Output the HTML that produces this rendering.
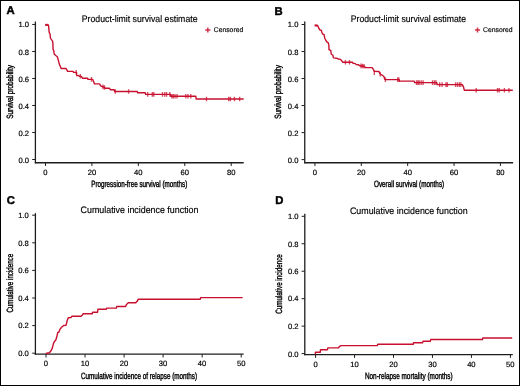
<!DOCTYPE html>
<html><head><meta charset="utf-8"><style>
html,body{margin:0;padding:0;background:#fff;}
body{width:520px;height:386px;overflow:hidden;}
svg{display:block;will-change:transform;}
text{font-family:"Liberation Sans", sans-serif;fill:#000;text-rendering:geometricPrecision;stroke:#000;stroke-width:0.15px;}
.tk{font-size:7.6px;stroke-width:0.18px;}
.tt{font-size:9.4px;stroke-width:0.16px;}
.al{font-size:9.1px;stroke-width:0.4px;}
.lg{font-size:6.8px;}
.pl{font-size:11.3px;font-weight:bold;fill:#000;stroke-width:0.45px;}
</style></head><body>
<svg width="520" height="386" viewBox="0 0 520 386">
<rect x="0" y="0" width="520" height="386" fill="#fff"/>
<rect x="0.5" y="0.5" width="519" height="385" fill="none" stroke="#000" stroke-width="1"/>
<line x1="35.4" y1="21.5" x2="35.4" y2="163.29" stroke="#1e1e1e" stroke-width="1.3"/>
<line x1="34.8" y1="162.69" x2="243.7" y2="162.69" stroke="#1e1e1e" stroke-width="1.38"/>
<line x1="32.2" y1="159.5" x2="35.4" y2="159.5" stroke="#1e1e1e" stroke-width="1"/>
<line x1="32.2" y1="132.49" x2="35.4" y2="132.49" stroke="#1e1e1e" stroke-width="1"/>
<line x1="32.2" y1="105.48" x2="35.4" y2="105.48" stroke="#1e1e1e" stroke-width="1"/>
<line x1="32.2" y1="78.48" x2="35.4" y2="78.48" stroke="#1e1e1e" stroke-width="1"/>
<line x1="32.2" y1="51.47" x2="35.4" y2="51.47" stroke="#1e1e1e" stroke-width="1"/>
<line x1="32.2" y1="24.46" x2="35.4" y2="24.46" stroke="#1e1e1e" stroke-width="1"/>
<line x1="45.5" y1="162.69" x2="45.5" y2="165.99" stroke="#1e1e1e" stroke-width="1"/>
<line x1="91.92" y1="162.69" x2="91.92" y2="165.99" stroke="#1e1e1e" stroke-width="1"/>
<line x1="138.35" y1="162.69" x2="138.35" y2="165.99" stroke="#1e1e1e" stroke-width="1"/>
<line x1="184.78" y1="162.69" x2="184.78" y2="165.99" stroke="#1e1e1e" stroke-width="1"/>
<line x1="231.2" y1="162.69" x2="231.2" y2="165.99" stroke="#1e1e1e" stroke-width="1"/>
<path d="M45 24.9 L48.3 24.9 L48.6 26.2 L48.8 28.1 L49.2 32.4 L50.1 34.3 L50.4 38 L51.6 39.9 L52.6 41.1 L52.9 43.5 L53.05 49.3 L53.8 50.9 L54.2 54 L55.8 55.5 L57.3 56.7 L58.1 59.4 L58.9 62.5 L59.5 64.6 L60.3 66.2 L61.1 68.5 L66.1 68.5 L67.6 71.4 L73 71.4 L73.6 72.4 L76.5 72.4 L76.8 75.6 L78.8 75.6 L79.3 76.2 L81.3 76.4 L82.6 78.3 L87.6 78.3 L87.9 79.4 L92.5 79.4 L93 80 L93.8 81.9 L94.5 83.9 L99.5 83.9 L100.7 85.8 L102.2 86.5 L104.2 87.3 L105.7 88.3 L109.5 88.3 L110.3 89.7 L114.2 89.7 L114.6 91.5 L137.3 91.5 L137.6 92.8 L145.3 92.8 L145.6 94.4 L170.6 94.4 L170.9 96.3 L195.8 96.3 L196.1 99 L243.7 99" fill="none" stroke="#C8102E" stroke-width="1.4" stroke-linejoin="round"/>
<path d="M76.2 70V74.6M80.3 73.9V78.5M91.5 77.1V81.7M103 84.6V89.2M104.5 85.2V89.8M115.3 89.2V93.8M128.6 89.2V93.8M147.7 92.1V96.7M152.3 92.1V96.7M153.8 92.1V96.7M162.5 92.1V96.7M164.8 92.1V96.7M166.6 92.1V96.7M169.8 92.1V96.7M171.8 94V98.6M173.3 94V98.6M175 94V98.6M177 94V98.6M185.8 94V98.6M188 94V98.6M190.8 94V98.6M206.5 96.7V101.3M228.7 96.7V101.3M230.4 96.7V101.3M234.4 96.7V101.3M239.6 96.7V101.3" stroke="#C8102E" stroke-width="1.35" stroke-opacity="0.75"/>
<path d="M45.2 24.9H48.3" stroke="#C8102E" stroke-width="2.1" stroke-opacity="0.85"/>
<path d="M205.2 30H210.4M207.8 27.4V32.6" stroke="#C8102E" stroke-width="1.5" stroke-opacity="0.85"/>
<line x1="304.75" y1="21.5" x2="304.75" y2="163.29" stroke="#1e1e1e" stroke-width="1.3"/>
<line x1="304.15" y1="162.69" x2="513.1" y2="162.69" stroke="#1e1e1e" stroke-width="1.38"/>
<line x1="301.55" y1="159.6" x2="304.75" y2="159.6" stroke="#1e1e1e" stroke-width="1"/>
<line x1="301.55" y1="132.58" x2="304.75" y2="132.58" stroke="#1e1e1e" stroke-width="1"/>
<line x1="301.55" y1="105.56" x2="304.75" y2="105.56" stroke="#1e1e1e" stroke-width="1"/>
<line x1="301.55" y1="78.54" x2="304.75" y2="78.54" stroke="#1e1e1e" stroke-width="1"/>
<line x1="301.55" y1="51.52" x2="304.75" y2="51.52" stroke="#1e1e1e" stroke-width="1"/>
<line x1="301.55" y1="24.5" x2="304.75" y2="24.5" stroke="#1e1e1e" stroke-width="1"/>
<line x1="314.95" y1="162.69" x2="314.95" y2="165.99" stroke="#1e1e1e" stroke-width="1"/>
<line x1="361.31" y1="162.69" x2="361.31" y2="165.99" stroke="#1e1e1e" stroke-width="1"/>
<line x1="407.67" y1="162.69" x2="407.67" y2="165.99" stroke="#1e1e1e" stroke-width="1"/>
<line x1="454.04" y1="162.69" x2="454.04" y2="165.99" stroke="#1e1e1e" stroke-width="1"/>
<line x1="500.4" y1="162.69" x2="500.4" y2="165.99" stroke="#1e1e1e" stroke-width="1"/>
<path d="M314.6 25.4 L317.8 25.7 L318.9 28.5 L320.1 30 L321.3 30.4 L322.4 33.9 L324 34.5 L324.8 38.2 L325.9 40.5 L327.1 42.1 L328.3 42.9 L328.9 45.4 L329 49.7 L330.8 50.5 L331.2 54 L332.8 55.2 L333.5 57.9 L337 58.3 L338.2 59 L340.5 59.4 L342.5 61.8 L343.3 62.3 L352.3 62.3 L353.1 63.3 L355.4 63.6 L356.2 64.6 L358.5 64.8 L360 65.8 L364.2 66.2 L365.4 67.5 L372.2 67.6 L373.3 69.3 L374.3 71.4 L379 71.5 L379.7 73.1 L381 74.7 L382.3 75.2 L383.9 76.5 L384.9 79.6 L399.2 79.6 L399.6 81.1 L414.2 81.1 L414.6 82.6 L436.8 82.6 L437.2 84.6 L462.3 84.6 L463.5 86.9 L464.3 90.2 L512.8 90.2" fill="none" stroke="#C8102E" stroke-width="1.4" stroke-linejoin="round"/>
<path d="M345.4 60V64.6M349.5 60V64.6M361 63.6V68.2M362.5 63.7V68.3M364 63.9V68.5M374.3 70.5V75.1M380.2 72V76.6M385.4 77.3V81.9M397.7 77.3V81.9M398.8 77.3V81.9M416.5 80.3V84.9M418 80.3V84.9M419.2 80.3V84.9M421.2 80.3V84.9M423.1 80.3V84.9M432.5 80.3V84.9M434.4 80.3V84.9M435.9 80.3V84.9M439.7 82.3V86.9M442.1 82.3V86.9M446 82.3V86.9M447.4 82.3V86.9M455.6 82.3V86.9M457.5 82.3V86.9M459.4 82.3V86.9M460.9 82.3V86.9M476.2 87.9V92.5M497.5 87.9V92.5M499.2 87.9V92.5M504.4 87.9V92.5M509 87.9V92.5" stroke="#C8102E" stroke-width="1.35" stroke-opacity="0.75"/>
<path d="M314.8 25.4H317.6" stroke="#C8102E" stroke-width="2.1" stroke-opacity="0.85"/>
<path d="M474.9 30H480.1M477.5 27.4V32.6" stroke="#C8102E" stroke-width="1.5" stroke-opacity="0.85"/>
<line x1="35.4" y1="213.2" x2="35.4" y2="354.78" stroke="#1e1e1e" stroke-width="1.3"/>
<line x1="34.8" y1="354.18" x2="243.6" y2="354.18" stroke="#1e1e1e" stroke-width="1.38"/>
<line x1="32.2" y1="353.2" x2="35.4" y2="353.2" stroke="#1e1e1e" stroke-width="1"/>
<line x1="32.2" y1="325.6" x2="35.4" y2="325.6" stroke="#1e1e1e" stroke-width="1"/>
<line x1="32.2" y1="298" x2="35.4" y2="298" stroke="#1e1e1e" stroke-width="1"/>
<line x1="32.2" y1="270.4" x2="35.4" y2="270.4" stroke="#1e1e1e" stroke-width="1"/>
<line x1="32.2" y1="242.8" x2="35.4" y2="242.8" stroke="#1e1e1e" stroke-width="1"/>
<line x1="32.2" y1="215.2" x2="35.4" y2="215.2" stroke="#1e1e1e" stroke-width="1"/>
<line x1="46" y1="354.18" x2="46" y2="357.48" stroke="#1e1e1e" stroke-width="1"/>
<line x1="85.04" y1="354.18" x2="85.04" y2="357.48" stroke="#1e1e1e" stroke-width="1"/>
<line x1="124.08" y1="354.18" x2="124.08" y2="357.48" stroke="#1e1e1e" stroke-width="1"/>
<line x1="163.12" y1="354.18" x2="163.12" y2="357.48" stroke="#1e1e1e" stroke-width="1"/>
<line x1="202.16" y1="354.18" x2="202.16" y2="357.48" stroke="#1e1e1e" stroke-width="1"/>
<line x1="241.2" y1="354.18" x2="241.2" y2="357.48" stroke="#1e1e1e" stroke-width="1"/>
<path d="M45.8 353.5 L49.4 352.7 L51.2 350.5 L52.3 348.1 L53.5 343.4 L54.7 341.2 L55.9 339.8 L57.1 335.6 L57.7 332.6 L58.9 332 L60.1 329.1 L61.6 327.3 L63.7 325.5 L66 325.3 L67.2 320.5 L68.3 317.7 L71 317.5 L71.8 316.3 L81 316.3 L82.2 315.2 L83.3 313.8 L92.2 313.8 L92.6 312.3 L97.6 312.3 L97.9 309.2 L106.3 309.2 L106.7 308.1 L116.4 308.1 L116.8 306.5 L125.6 306.5 L126.5 304.4 L128.3 302.8 L135.8 302.8 L136.6 301.4 L137.4 301.2 L138.1 299.2 L200.3 299.2 L200.6 297.6 L242.6 297.6" fill="none" stroke="#C8102E" stroke-width="1.4" stroke-linejoin="round"/>
<line x1="304.8" y1="213.8" x2="304.8" y2="355.2" stroke="#1e1e1e" stroke-width="1.3"/>
<line x1="304.2" y1="354.6" x2="512.8" y2="354.6" stroke="#1e1e1e" stroke-width="1.38"/>
<line x1="301.6" y1="353.6" x2="304.8" y2="353.6" stroke="#1e1e1e" stroke-width="1"/>
<line x1="301.6" y1="326.14" x2="304.8" y2="326.14" stroke="#1e1e1e" stroke-width="1"/>
<line x1="301.6" y1="298.68" x2="304.8" y2="298.68" stroke="#1e1e1e" stroke-width="1"/>
<line x1="301.6" y1="271.22" x2="304.8" y2="271.22" stroke="#1e1e1e" stroke-width="1"/>
<line x1="301.6" y1="243.76" x2="304.8" y2="243.76" stroke="#1e1e1e" stroke-width="1"/>
<line x1="301.6" y1="216.3" x2="304.8" y2="216.3" stroke="#1e1e1e" stroke-width="1"/>
<line x1="315.6" y1="354.6" x2="315.6" y2="357.9" stroke="#1e1e1e" stroke-width="1"/>
<line x1="354.56" y1="354.6" x2="354.56" y2="357.9" stroke="#1e1e1e" stroke-width="1"/>
<line x1="393.52" y1="354.6" x2="393.52" y2="357.9" stroke="#1e1e1e" stroke-width="1"/>
<line x1="432.48" y1="354.6" x2="432.48" y2="357.9" stroke="#1e1e1e" stroke-width="1"/>
<line x1="471.44" y1="354.6" x2="471.44" y2="357.9" stroke="#1e1e1e" stroke-width="1"/>
<line x1="510.4" y1="354.6" x2="510.4" y2="357.9" stroke="#1e1e1e" stroke-width="1"/>
<path d="M315.4 354.2 L315.4 352.3 L320.2 352.3 L320.5 349.7 L327.5 349.7 L327.8 347.9 L338.6 347.9 L339.2 346.6 L341 345.6 L377.4 345.6 L377.8 344.3 L413.2 344.3 L413.6 342.8 L422.6 342.8 L423 341.2 L430.4 341.2 L430.7 339.5 L482.5 339.5 L482.8 338 L512.2 338" fill="none" stroke="#C8102E" stroke-width="1.4" stroke-linejoin="round"/>
<g transform="rotate(0.01)">
<text x="29" y="162.8" text-anchor="end" class="tk">0.0</text>
<text x="29" y="136.29" text-anchor="end" class="tk">0.2</text>
<text x="29" y="109.18" text-anchor="end" class="tk">0.4</text>
<text x="29" y="81.98" text-anchor="end" class="tk">0.6</text>
<text x="29" y="54.77" text-anchor="end" class="tk">0.8</text>
<text x="29" y="27.26" text-anchor="end" class="tk">1.0</text>
<text x="45.5" y="174.8" text-anchor="middle" class="tk">0</text>
<text x="91.92" y="174.8" text-anchor="middle" class="tk">20</text>
<text x="138.35" y="174.8" text-anchor="middle" class="tk">40</text>
<text x="184.78" y="174.8" text-anchor="middle" class="tk">60</text>
<text x="231.2" y="174.8" text-anchor="middle" class="tk">80</text>
<text x="6.5" y="14.2" class="pl">A</text>
<text x="81.8" y="21.8" class="tt" textLength="115.7" lengthAdjust="spacingAndGlyphs">Product-limit survival estimate</text>
<text x="91.3" y="186.6" class="al" textLength="96" lengthAdjust="spacingAndGlyphs">Progression-free survival (months)</text>
<text transform="translate(12.8 118.8) rotate(-90)" class="al" textLength="53.7" lengthAdjust="spacingAndGlyphs">Survival probability</text>
<text x="213.8" y="31.9" class="lg" textLength="29.4" lengthAdjust="spacingAndGlyphs">Censored</text>
<text x="298.4" y="162.9" text-anchor="end" class="tk">0.0</text>
<text x="298.4" y="136.38" text-anchor="end" class="tk">0.2</text>
<text x="298.4" y="109.26" text-anchor="end" class="tk">0.4</text>
<text x="298.4" y="82.04" text-anchor="end" class="tk">0.6</text>
<text x="298.4" y="54.82" text-anchor="end" class="tk">0.8</text>
<text x="298.4" y="27.3" text-anchor="end" class="tk">1.0</text>
<text x="314.95" y="174.8" text-anchor="middle" class="tk">0</text>
<text x="361.31" y="174.8" text-anchor="middle" class="tk">20</text>
<text x="407.67" y="174.8" text-anchor="middle" class="tk">40</text>
<text x="454.04" y="174.8" text-anchor="middle" class="tk">60</text>
<text x="500.4" y="174.8" text-anchor="middle" class="tk">80</text>
<text x="274.4" y="14.9" class="pl">B</text>
<text x="350.8" y="22" class="tt" textLength="115.2" lengthAdjust="spacingAndGlyphs">Product-limit survival estimate</text>
<text x="374" y="186.6" class="al" textLength="70.2" lengthAdjust="spacingAndGlyphs">Overall survival (months)</text>
<text transform="translate(281.5 118.8) rotate(-90)" class="al" textLength="53.7" lengthAdjust="spacingAndGlyphs">Survival probability</text>
<text x="483" y="31.9" class="lg" textLength="29.6" lengthAdjust="spacingAndGlyphs">Censored</text>
<text x="28.8" y="356" text-anchor="end" class="tk">0.0</text>
<text x="28.8" y="328.3" text-anchor="end" class="tk">0.2</text>
<text x="28.8" y="300.5" text-anchor="end" class="tk">0.4</text>
<text x="28.8" y="273.2" text-anchor="end" class="tk">0.6</text>
<text x="28.8" y="245.8" text-anchor="end" class="tk">0.8</text>
<text x="28.8" y="218.4" text-anchor="end" class="tk">1.0</text>
<text x="46" y="365.5" text-anchor="middle" class="tk">0</text>
<text x="85.04" y="365.5" text-anchor="middle" class="tk">10</text>
<text x="124.08" y="365.5" text-anchor="middle" class="tk">20</text>
<text x="163.12" y="365.5" text-anchor="middle" class="tk">30</text>
<text x="202.16" y="365.5" text-anchor="middle" class="tk">40</text>
<text x="241.2" y="365.5" text-anchor="middle" class="tk">50</text>
<text x="6.9" y="204.2" class="pl">C</text>
<text x="80.6" y="213.1" class="tt" textLength="117.9" lengthAdjust="spacingAndGlyphs">Cumulative incidence function</text>
<text x="81" y="378.8" class="al" textLength="116.2" lengthAdjust="spacingAndGlyphs">Cumulative incidence of relapse (months)</text>
<text transform="translate(12.6 312.6) rotate(-90)" class="al" textLength="58.7" lengthAdjust="spacingAndGlyphs">Cumulative incidence</text>
<text x="298.6" y="357.2" text-anchor="end" class="tk">0.0</text>
<text x="298.6" y="329.24" text-anchor="end" class="tk">0.2</text>
<text x="298.6" y="301.13" text-anchor="end" class="tk">0.4</text>
<text x="298.6" y="274.02" text-anchor="end" class="tk">0.6</text>
<text x="298.6" y="246.66" text-anchor="end" class="tk">0.8</text>
<text x="298.6" y="219.3" text-anchor="end" class="tk">1.0</text>
<text x="315.6" y="366.6" text-anchor="middle" class="tk">0</text>
<text x="354.56" y="366.6" text-anchor="middle" class="tk">10</text>
<text x="393.52" y="366.6" text-anchor="middle" class="tk">20</text>
<text x="432.48" y="366.6" text-anchor="middle" class="tk">30</text>
<text x="471.44" y="366.6" text-anchor="middle" class="tk">40</text>
<text x="510.4" y="366.6" text-anchor="middle" class="tk">50</text>
<text x="275.2" y="204.2" class="pl">D</text>
<text x="350" y="214" class="tt" textLength="117.7" lengthAdjust="spacingAndGlyphs">Cumulative incidence function</text>
<text x="365" y="379.0" class="al" textLength="87.7" lengthAdjust="spacingAndGlyphs">Non-relapse mortality (months)</text>
<text transform="translate(282 313.7) rotate(-90)" class="al" textLength="59.6" lengthAdjust="spacingAndGlyphs">Cumulative incidence</text>
</g>
</svg>
</body></html>
